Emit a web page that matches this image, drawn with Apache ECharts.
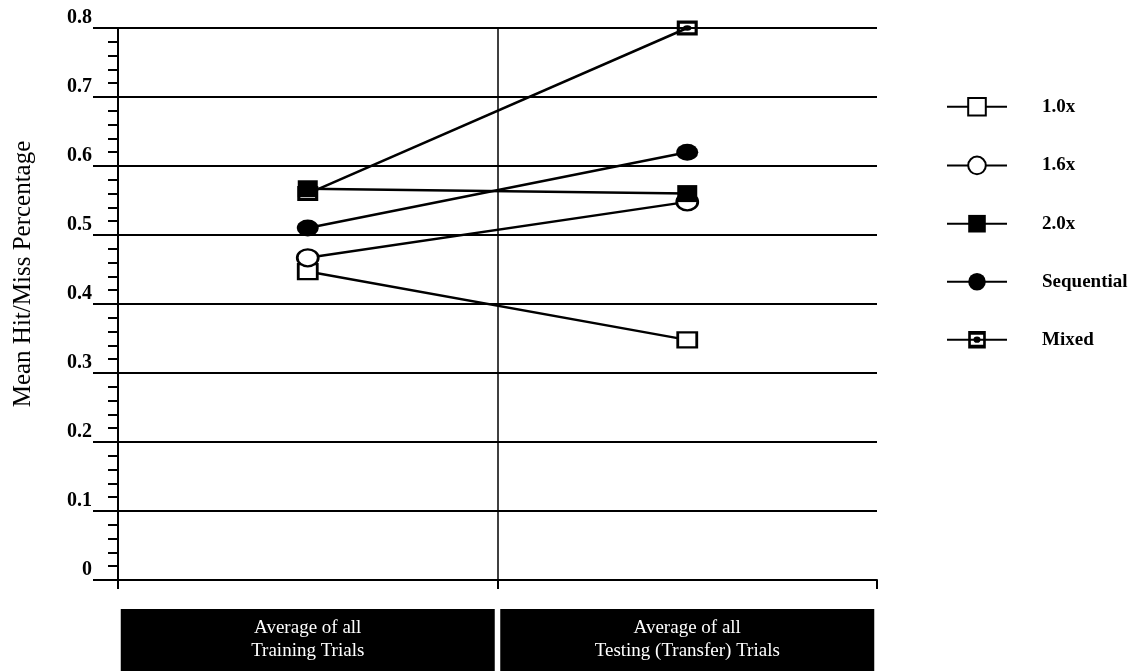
<!DOCTYPE html>
<html>
<head>
<meta charset="utf-8">
<script src="https://cdn.jsdelivr.net/npm/echarts@6/dist/echarts.min.js"></script>
<style>
  html, body { margin: 0; padding: 0; background: #fff; }
  #chart { width: 1147px; height: 671px; }
</style>
</head>
<body>
<div id="chart"></div>
<script>
// categories on the x axis
const categories = ["Average of all\nTraining Trials", "Average of all\nTesting (Transfer) Trials"];

// mean hit/miss values (training, testing)
const seriesNames = ["1.0x", "1.6x", "2.0x", "Sequential", "Mixed"];
const values10 = [0.447, 0.348];
const values16 = [0.467, 0.548];
const values20 = [0.567, 0.56];
const valuesSeq = [0.51, 0.62];
const valuesMixed = [0.56, 0.80];

const FONT = "'Liberation Serif', 'DejaVu Serif', serif";

// rectangle outline with a small dot in it
const mixedSymbol = "path://M0,0H20V14H0Z M3,3V11H17V3Z M6,7A4,2.5 0 1 0 14,7A4,2.5 0 1 0 6,7Z";

function lineSeries(name, data, symbol, size, itemStyle) {
  return {
    name: name,
    type: "line",
    data: data,
    symbol: symbol,
    symbolSize: size,
    lineStyle: { color: "#000", width: 2.5 },
    itemStyle: Object.assign({ color: "#000" }, itemStyle),
    z: 3,
  };
}

const chart = echarts.init(document.getElementById("chart"), null, { renderer: "canvas" });

chart.setOption({
  animation: false,
  backgroundColor: "#fff",
  textStyle: { fontFamily: FONT },
  grid: { left: 118, right: 270, top: 28, bottom: 88 },
  legend: {
    orient: "vertical",
    left: 941,
    top: 92,
    itemWidth: 60,
    itemHeight: 22,
    itemGap: 39,
    data: seriesNames,
    textStyle: { fontFamily: FONT, fontSize: 19, fontWeight: "bold", color: "#000", padding: [0, 0, 0, 30] },
  },
  xAxis: {
    type: "category",
    data: categories,
    boundaryGap: true,
    axisLine: { lineStyle: { color: "#000", width: 2 } },
    axisTick: { show: true, length: 9, lineStyle: { color: "#000", width: 2 } },
    splitLine: { show: true, showMinLine: false, showMaxLine: false, lineStyle: { color: "#000", width: 1.5 } },
    axisLabel: {
      margin: 29,
      color: "#fff",
      backgroundColor: "#000",
      width: 374,
      height: 46,
      padding: [8, 0, 8, 0],
      align: "center",
      lineHeight: 23,
      fontFamily: FONT,
      fontSize: 19,
    },
  },
  yAxis: {
    type: "value",
    min: 0,
    max: 0.8,
    interval: 0.1,
    name: "Mean Hit/Miss Percentage",
    nameLocation: "middle",
    nameGap: 82,
    nameTextStyle: { fontFamily: FONT, fontSize: 25, color: "#000", padding: [0, 0, 0, 60] },
    axisLine: { show: true, lineStyle: { color: "#000", width: 2 } },
    axisTick: { show: true, length: 25, lineStyle: { color: "#000", width: 2 } },
    minorTick: { show: true, splitNumber: 5, length: 10, lineStyle: { color: "#000", width: 2 } },
    splitLine: { show: true, lineStyle: { color: "#000", width: 2 } },
    axisLabel: {
      margin: 26,
      verticalAlign: "bottom",
      fontFamily: FONT,
      fontSize: 20,
      fontWeight: "bold",
      color: "#000",
    },
  },
  series: [
    lineSeries("1.0x", values10, "rect", [19, 15], { color: "#fff", borderColor: "#000", borderWidth: 2.5 }),
    lineSeries("1.6x", values16, "circle", [21, 17], { color: "#fff", borderColor: "#000", borderWidth: 2.5 }),
    lineSeries("2.0x", values20, "rect", [20, 17], {}),
    lineSeries("Sequential", valuesSeq, "circle", [22, 17], {}),
    lineSeries("Mixed", valuesMixed, mixedSymbol, [21, 15], {}),
  ],
});
</script>
</body>
</html>
